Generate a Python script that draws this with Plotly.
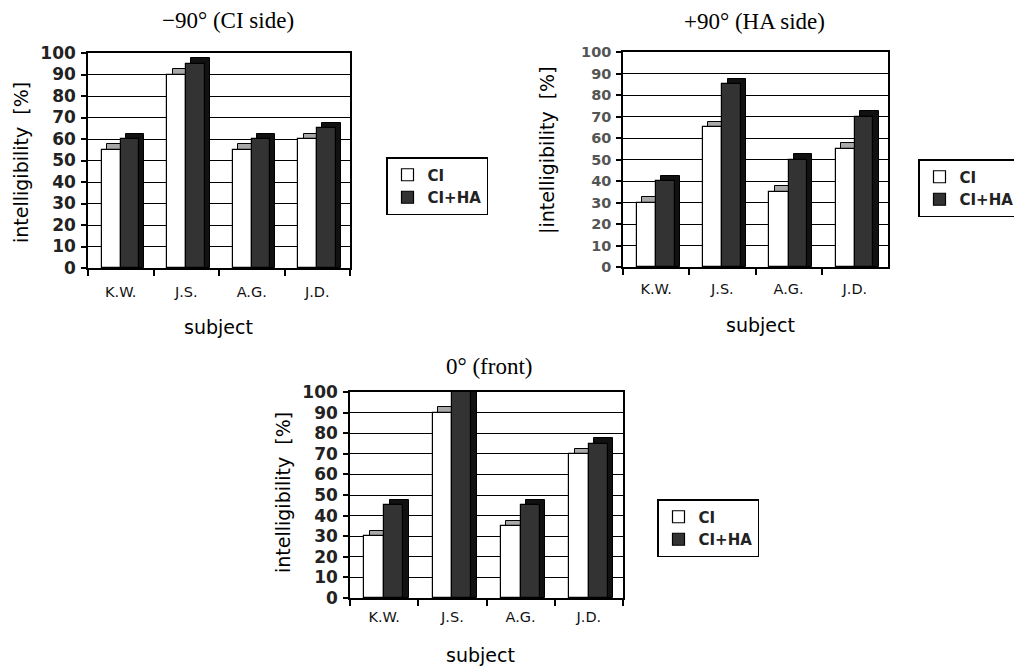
import plotly.graph_objects as go

subjects = ["K.W.", "J.S.", "A.G.", "J.D."]
series_names = ["CI", "CI+HA"]

ci_m90 = [55, 90, 55, 60]
ciha_m90 = [60, 95, 60, 65]
ci_p90 = [30, 65, 35, 55]
ciha_p90 = [40, 85, 50, 70]
ci_0 = [30, 90, 35, 70]
ciha_0 = [45, 100, 45, 75]

titles = ["\u221290\u00b0 (CI side)", "+90\u00b0 (HA side)", "0\u00b0 (front)"]
ytitles = ["intelligibility  [%]", "|intelligibility  [%]", "intelligibility  [%]"]
xtitle = "subject"
ytick_vals = list(range(0, 101, 10))

W, H = 1022, 666
OFF = 8  # page body margin compensation
def px(x): return (x - OFF) / W
def py(y): return 1 - (y - OFF) / H

panels = [
    dict(ci=ci_m90, ha=ciha_m90, x0=88, x1=350, y0=53, y1=268, title=titles[0], ytitle=ytitles[0],
         tcx=228, tcy=20, ytx=21, yty=163, xtx=218, xty=327, leg=(386, 157, "left"),
         tickfont=dict(family="DejaVu Sans", size=17, color="#222"), standoff=10, legsize=15),
    dict(ci=ci_p90, ha=ciha_p90, x0=623, x1=888, y0=52, y1=267, title=titles[1], ytitle=ytitles[1],
         tcx=754, tcy=22, ytx=548, yty=150, xtx=760, xty=325, leg=(1020, 159, "right"),
         tickfont=dict(family="DejaVu Sans", size=14.5, color="#555"), standoff=8, legsize=15),
    dict(ci=ci_0, ha=ciha_0, x0=350, x1=623, y0=392, y1=598, title=titles[2], ytitle=ytitles[2],
         tcx=489, tcy=366, ytx=283, yty=493, xtx=480, xty=655, leg=(657, 499, "left"),
         tickfont=dict(family="DejaVu Sans", size=17, color="#222"), standoff=5, legsize=15),
]

DX = 0.08   # depth offset (category units)
DY = 2.5    # depth offset (value units)
W_CI, OFF_CI = 0.29, -0.29
W_HA, OFF_HA = 0.28, 0.0

fig = go.Figure()
annotations = []
layout = {}

for i, p in enumerate(panels):
    n = "" if i == 0 else str(i + 1)
    xa, ya = "x" + n, "y" + n
    leg = "legend" + n
    fig.add_trace(go.Bar(x=subjects, y=[v + DY for v in p["ci"]], base=0, offset=OFF_CI + DX, width=W_CI,
                         marker=dict(color="#a8a8a8", line=dict(color="black", width=1)),
                         xaxis=xa, yaxis=ya, showlegend=False, hoverinfo="skip", cliponaxis=False))
    fig.add_trace(go.Bar(x=subjects, y=p["ci"], offset=OFF_CI, width=W_CI, name=series_names[0],
                         marker=dict(color="white", line=dict(color="black", width=1.2)),
                         xaxis=xa, yaxis=ya, legend=leg, cliponaxis=False))
    fig.add_trace(go.Bar(x=subjects, y=[v + DY for v in p["ha"]], base=0, offset=OFF_HA + DX, width=W_HA,
                         marker=dict(color="#111111", line=dict(color="black", width=1)),
                         xaxis=xa, yaxis=ya, showlegend=False, hoverinfo="skip", cliponaxis=False))
    fig.add_trace(go.Bar(x=subjects, y=p["ha"], offset=OFF_HA, width=W_HA, name=series_names[1],
                         marker=dict(color="#333333", line=dict(color="black", width=1.2)),
                         xaxis=xa, yaxis=ya, legend=leg, cliponaxis=False))

    layout["xaxis" + n] = dict(domain=[px(p["x0"]), px(p["x1"])], anchor=ya, type="category",
                               range=[-0.5, 3.5], tickson="boundaries", ticks="outside", ticklen=6,
                               tickwidth=1.5, tickcolor="black", showline=True, linecolor="black",
                               linewidth=1.5, mirror=True, showgrid=False, ticklabelstandoff=p["standoff"],
                               tickfont=dict(family="DejaVu Sans", size=14.5, color="#111"), fixedrange=True)
    layout["yaxis" + n] = dict(domain=[py(p["y1"]), py(p["y0"])], anchor=xa, range=[0, 100],
                               tickvals=ytick_vals, ticks="outside", ticklen=5, tickwidth=1.5,
                               tickcolor="black", showline=True, linecolor="black", linewidth=1.5,
                               mirror=True, showgrid=True, gridcolor="black", gridwidth=1,
                               zeroline=False, ticklabelstandoff=2,
                               tickfont=dict(p["tickfont"], weight="bold"), fixedrange=True)
    lx, ly, lanch = p["leg"]
    layout[leg] = dict(x=px(lx), y=py(ly), xanchor=lanch, yanchor="top", bgcolor="white",
                       bordercolor="black", borderwidth=1.5, itemwidth=30,
                       font=dict(family="DejaVu Sans", size=p["legsize"], color="#222", weight="bold"),
                       tracegroupgap=0)
    annotations.append(dict(text=p["title"], x=px(p["tcx"]), y=py(p["tcy"]), xref="paper", yref="paper",
                            showarrow=False, xanchor="center", yanchor="middle",
                            font=dict(family="Liberation Serif", size=23, color="black")))
    annotations.append(dict(text=p["ytitle"], x=px(p["ytx"]), y=py(p["yty"]), xref="paper", yref="paper",
                            showarrow=False, xanchor="center", yanchor="middle", textangle=-90,
                            font=dict(family="DejaVu Sans", size=19, color="black")))
    annotations.append(dict(text=xtitle, x=px(p["xtx"]), y=py(p["xty"]), xref="paper", yref="paper",
                            showarrow=False, xanchor="center", yanchor="middle",
                            font=dict(family="DejaVu Sans", size=19, color="black")))

fig.update_layout(**layout)
fig.update_layout(width=W, height=H, margin=dict(l=0, r=0, t=0, b=0, autoexpand=False),
                  paper_bgcolor="white", plot_bgcolor="white", barmode="overlay",
                  annotations=annotations, bargap=0)
fig.write_html("out.html")
